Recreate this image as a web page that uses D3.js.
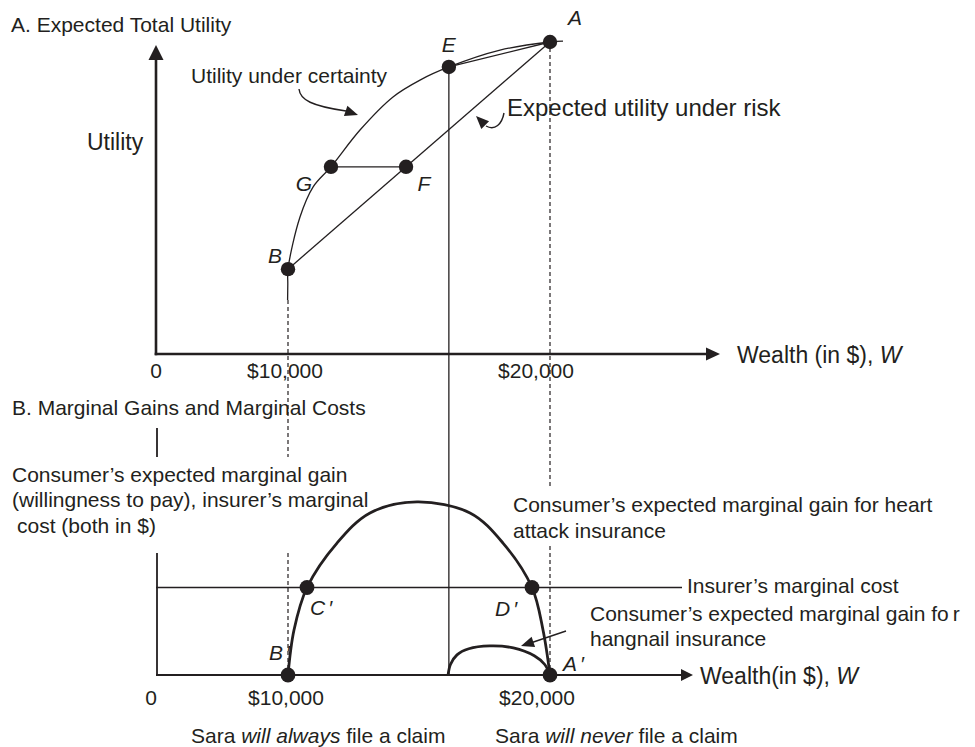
<!DOCTYPE html>
<html>
<head>
<meta charset="utf-8">
<script src="https://cdn.jsdelivr.net/npm/d3@7"></script>
<style>
  html, body { margin: 0; padding: 0; background: #fff; }
  svg { display: block; }
  text { font-family: "Liberation Sans", Arial, Helvetica, sans-serif; font-size: 21px; fill: #231f20; }
  .it { font-style: italic; }
  .big { font-size: 23px; }
  .risk { font-size: 24px; }
</style>
</head>
<body>
<svg id="chart" width="975" height="747"></svg>
<script>
// ---- Axis ticks (wealth, $) ----
const wealthTicks = [0, 10000, 20000];
const wealthTickLabels = ["0", "$10,000", "$20,000"];

// ---- Panel A: utility under certainty (wealth, utility) ----
const certaintyWealth  = [9970, 9985, 10000, 10458, 10954, 11640, 12748, 14008, 15038, 16140, 18092, 20000, 20496];
const certaintyUtility = [17.3, 22.4, 27.2, 43.9, 53.5, 60.0, 71.8, 82.4, 87.8, 92.0, 97.4, 100, 100.3];

// Labelled points of panel A
const pointNames   = ["A", "E", "G", "F", "B"];
const pointWealth  = [20000, 16140, 11640, 14505, 10000];
const pointUtility = [100, 92.0, 60.0, 60.0, 27.2];

// ---- Panel B: marginal gains ($) ----
const heartWealth = [10000, 10229, 10725, 11870, 13130, 14924, 16947, 18206, 19313, 19733, 20000];
const heartGain   = [0, 25.7, 50, 75.4, 92.6, 98.9, 92.6, 75.4, 50, 25.7, 0];

const hangnailWealth = [16110, 16200, 16450, 16900, 17700, 18600, 19400, 19800, 20000];
const hangnailGain   = [0, 6, 11.5, 15, 16.6, 15.5, 11, 6, 0];

const insurerCost = 50;

const primeNames  = ["B", "C", "D", "A"];
const primeWealth = [10000, 10725, 19313, 20000];
const primeGain   = [0, 50, 50, 0];

// ---- Drawing ----
const ink = "#231f20";
const svg = d3.select("#chart");

const x  = d3.scaleLinear().domain([0, 10000, 20000]).range([156, 288, 550]);
const yU = d3.scaleLinear().domain([0, 100]).range([354, 42]);
const yG = d3.scaleLinear().domain([0, 100]).range([675, 500]);

const smooth = d3.curveCatmullRom.alpha(0.5);

function arrowHead(tx, ty, angle, len, half) {
  const bx = tx - len * Math.cos(angle), by = ty - len * Math.sin(angle);
  const nx = -Math.sin(angle) * half, ny = Math.cos(angle) * half;
  svg.append("path")
    .attr("d", `M${tx},${ty}L${bx + nx},${by + ny}L${bx - nx},${by - ny}Z`)
    .attr("fill", ink);
}

// dashed guides at $10,000 and $20,000 (broken where text sits)
const guideSegments = [
  { w: 10000, segs: [[300, 457], [553, 675]] },
  { w: 20000, segs: [[48, 488], [546, 675]] }
];
guideSegments.forEach(g => g.segs.forEach(s => {
  svg.append("line")
    .attr("x1", x(g.w)).attr("x2", x(g.w))
    .attr("y1", s[0]).attr("y2", s[1])
    .attr("stroke", ink).attr("stroke-width", 1.2)
    .attr("stroke-dasharray", "4,3");
}));

// vertical from E down to panel B axis
const eW = pointWealth[1];
svg.append("line")
  .attr("x1", x(eW)).attr("x2", x(eW))
  .attr("y1", yU(pointUtility[1])).attr("y2", yG(0))
  .attr("stroke", ink).attr("stroke-width", 1.3);

// utility under certainty
const certainty = certaintyWealth.map((w, i) => [w, certaintyUtility[i]]);
svg.append("path")
  .datum(certainty)
  .attr("d", d3.line().x(d => x(d[0])).y(d => yU(d[1])).curve(smooth))
  .attr("fill", "none").attr("stroke", ink).attr("stroke-width", 1.3);

// expected utility under risk (chord B–A), chord E–A, and G–F
const P = name => { const i = pointNames.indexOf(name); return [x(pointWealth[i]), yU(pointUtility[i])]; };
[["B", "A"], ["E", "A"], ["G", "F"]].forEach(([a, b]) => {
  const p = P(a), q = P(b);
  svg.append("line")
    .attr("x1", p[0]).attr("y1", p[1]).attr("x2", q[0]).attr("y2", q[1])
    .attr("stroke", ink).attr("stroke-width", 1.3);
});

// panel A axes
svg.append("line")
  .attr("x1", x(0)).attr("x2", x(0)).attr("y1", yU(0) + 1.3).attr("y2", 58)
  .attr("stroke", ink).attr("stroke-width", 2.6);
arrowHead(x(0), 45, -Math.PI / 2, 15, 7.5);
svg.append("line")
  .attr("x1", x(0) - 1.3).attr("x2", 708).attr("y1", yU(0)).attr("y2", yU(0))
  .attr("stroke", ink).attr("stroke-width", 2.6);
arrowHead(720, yU(0), 0, 14, 6.5);

// panel B: insurer's marginal cost
svg.append("line")
  .attr("x1", x(0)).attr("x2", 682).attr("y1", yG(insurerCost)).attr("y2", yG(insurerCost))
  .attr("stroke", ink).attr("stroke-width", 1.3);

// panel B axes
[[428, 457], [553, 675]].forEach(s => {
  svg.append("line")
    .attr("x1", x(0) + 1).attr("x2", x(0) + 1).attr("y1", s[0]).attr("y2", s[1])
    .attr("stroke", ink).attr("stroke-width", 1.8);
});
svg.append("line")
  .attr("x1", x(0)).attr("x2", 682).attr("y1", yG(0)).attr("y2", yG(0))
  .attr("stroke", ink).attr("stroke-width", 2.2);
arrowHead(693, yG(0), 0, 12, 6);

// marginal gain curves
const gainLine = d3.line().x(d => x(d[0])).y(d => yG(d[1])).curve(smooth);
svg.append("path")
  .datum(heartWealth.map((w, i) => [w, heartGain[i]]))
  .attr("d", gainLine)
  .attr("fill", "none").attr("stroke", ink).attr("stroke-width", 2.8);
svg.append("path")
  .datum(hangnailWealth.map((w, i) => [w, hangnailGain[i]]))
  .attr("d", gainLine)
  .attr("fill", "none").attr("stroke", ink).attr("stroke-width", 2.8);

// points
pointNames.forEach((n, i) => {
  svg.append("circle").attr("cx", x(pointWealth[i])).attr("cy", yU(pointUtility[i])).attr("r", 7.2).attr("fill", ink);
});
primeNames.forEach((n, i) => {
  svg.append("circle").attr("cx", x(primeWealth[i])).attr("cy", yG(primeGain[i])).attr("r", 7.4).attr("fill", ink);
});

// point labels
const pointLabelOffset = { A: [25, -17, "middle"], E: [0, -15, "middle"], G: [-27, 24, "middle"], F: [18, 24, "middle"], B: [-13, -6, "middle"] };
pointNames.forEach((n, i) => {
  const o = pointLabelOffset[n];
  svg.append("text").attr("class", "it")
    .attr("x", x(pointWealth[i]) + o[0]).attr("y", yU(pointUtility[i]) + o[1])
    .attr("text-anchor", o[2]).text(n);
});
const primeLabelOffset = { B: [-19, -15], C: [3, 27], D: [-37, 28], A: [13, -4] };
primeNames.forEach((n, i) => {
  const o = primeLabelOffset[n];
  const t = svg.append("text").attr("class", "it")
    .attr("x", x(primeWealth[i]) + o[0]).attr("y", yG(primeGain[i]) + o[1]);
  t.append("tspan").text(n);
  t.append("tspan").attr("dx", 3).text("\u2032");
});

// tick labels
const tickShift = [0, -3, -14];
wealthTicks.forEach((w, i) => {
  svg.append("text").attr("x", x(w) + tickShift[i]).attr("y", 378).attr("text-anchor", "middle").text(wealthTickLabels[i]);
  svg.append("text").attr("x", x(w) + tickShift[i] - (i === 0 ? 5 : -1)).attr("y", 705).attr("text-anchor", "middle").text(wealthTickLabels[i]);
});

// axis titles
const wTop = svg.append("text").attr("class", "big").attr("x", 737).attr("y", 363);
wTop.append("tspan").text("Wealth (in $), ");
wTop.append("tspan").attr("class", "it").text("W");
const wBot = svg.append("text").attr("class", "big").attr("x", 700).attr("y", 684);
wBot.append("tspan").text("Wealth(in $), ");
wBot.append("tspan").attr("class", "it").text("W");

svg.append("text").attr("x", 11).attr("y", 32).text("A. Expected Total Utility");
svg.append("text").attr("class", "big").attr("x", 87).attr("y", 150).text("Utility");
svg.append("text").attr("x", 12).attr("y", 415).text("B. Marginal Gains and Marginal Costs");

[["Consumer\u2019s expected marginal gain", 12, 482],
 ["(willingness to pay), insurer\u2019s marginal", 12, 507],
 ["cost (both in $)", 17, 533]].forEach(([s, tx, ty]) => {
  svg.append("text").attr("x", tx).attr("y", ty).text(s);
});

// annotations
svg.append("text").attr("x", 191).attr("y", 83).text("Utility under certainty");
svg.append("path").attr("d", "M299,89 C300,100 312,106 346,111").attr("fill", "none").attr("stroke", ink).attr("stroke-width", 1.4);
arrowHead(358, 115, Math.atan2(4, 12), 13, 5.5);

svg.append("text").attr("class", "risk").attr("x", 507).attr("y", 116).text("Expected utility under risk");
svg.append("path").attr("d", "M504,113 C502,124 495,131 486,126").attr("fill", "none").attr("stroke", ink).attr("stroke-width", 1.4);
arrowHead(476, 116, Math.atan2(-10, -10), 13, 5.5);

svg.append("text").attr("x", 513).attr("y", 512).text("Consumer\u2019s expected marginal gain for heart");
svg.append("text").attr("x", 513).attr("y", 538).text("attack insurance");
svg.append("text").attr("x", 687).attr("y", 593).text("Insurer\u2019s marginal cost");
const hn = svg.append("text").attr("x", 590).attr("y", 621);
hn.append("tspan").text("Consumer\u2019s expected marginal gain fo");
hn.append("tspan").attr("dx", 4).text("r");
svg.append("text").attr("x", 590).attr("y", 646).text("hangnail insurance");
svg.append("line").attr("x1", 566).attr("y1", 631).attr("x2", 532).attr("y2", 642.5).attr("stroke", ink).attr("stroke-width", 1.4);
arrowHead(521, 646, Math.atan2(15, -45), 13, 5.5);

const sa = svg.append("text").attr("x", 191).attr("y", 743);
sa.append("tspan").text("Sara ");
sa.append("tspan").attr("class", "it").text("will always");
sa.append("tspan").text(" file a claim");
const sn = svg.append("text").attr("x", 495).attr("y", 743);
sn.append("tspan").text("Sara ");
sn.append("tspan").attr("class", "it").text("will never");
sn.append("tspan").text(" file a claim");
</script>
</body>
</html>
